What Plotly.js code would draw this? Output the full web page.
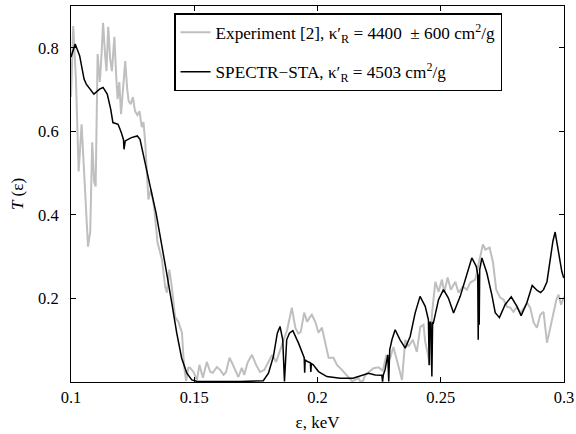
<!DOCTYPE html>
<html>
<head>
<meta charset="utf-8">
<script src="https://cdn.plot.ly/plotly-3.0.1.min.js"></script>
<style>
  html, body { margin: 0; padding: 0; background: #ffffff; }
  #chart { width: 576px; height: 434px; }
</style>
</head>
<body>
<div id="chart"></div>
<script>
// Experiment [2]
var expX = [0.1000,0.1009,0.1020,0.1031,0.1043,0.1053,0.1063,0.1069,0.1078,0.1086,0.1094,0.1100,0.1108,0.1117,0.1124,0.1130,0.1138,0.1144,0.1151,0.1159,0.1166,0.1176,0.1183,0.1189,0.1196,0.1203,0.1211,0.1220,0.1228,0.1234,0.1242,0.1251,0.1260,0.1269,0.1278,0.1287,0.1294,0.1301,0.1314,0.1324,0.1337,0.1351,0.1369,0.1382,0.1389,0.1399,0.1409,0.1422,0.1436,0.1450,0.1459,0.1467,0.1476,0.1483,0.1497,0.1511,0.1521,0.1535,0.1551,0.1565,0.1575,0.1592,0.1605,0.1619,0.1629,0.1643,0.1653,0.1666,0.1679,0.1693,0.1703,0.1716,0.1734,0.1751,0.1767,0.1784,0.1800,0.1816,0.1832,0.1849,0.1865,0.1877,0.1896,0.1910,0.1922,0.1932,0.1946,0.1958,0.1968,0.1977,0.1991,0.2004,0.2018,0.2031,0.2045,0.2065,0.2079,0.2099,0.2119,0.2140,0.2153,0.2166,0.2173,0.2184,0.2194,0.2207,0.2227,0.2248,0.2265,0.2279,0.2295,0.2308,0.2322,0.2336,0.2343,0.2356,0.2369,0.2387,0.2403,0.2417,0.2430,0.2437,0.2446,0.2455,0.2464,0.2478,0.2491,0.2505,0.2514,0.2528,0.2541,0.2559,0.2572,0.2590,0.2606,0.2620,0.2640,0.2653,0.2671,0.2681,0.2698,0.2712,0.2725,0.2741,0.2755,0.2769,0.2782,0.2795,0.2809,0.2823,0.2839,0.2850,0.2863,0.2877,0.2890,0.2904,0.2917,0.2931,0.2944,0.2958,0.2969,0.2978,0.2988,0.3000];
var expY = [0.682,0.852,0.725,0.504,0.617,0.509,0.377,0.324,0.360,0.574,0.478,0.468,0.785,0.718,0.785,0.860,0.785,0.744,0.850,0.773,0.744,0.826,0.737,0.677,0.718,0.641,0.701,0.768,0.701,0.672,0.665,0.682,0.648,0.639,0.648,0.610,0.622,0.574,0.437,0.461,0.420,0.334,0.293,0.228,0.214,0.269,0.228,0.156,0.144,0.118,0.036,0.002,0.034,0.034,0.024,0.005,0.041,0.010,0.048,0.024,0.022,0.036,0.029,0.017,0.024,0.058,0.046,0.029,0.012,0.034,0.017,0.046,0.065,0.041,0.024,0.029,0.048,0.065,0.048,0.077,0.106,0.125,0.178,0.130,0.116,0.120,0.166,0.144,0.154,0.161,0.144,0.118,0.130,0.094,0.058,0.058,0.041,0.029,0.017,0.002,0.005,0.010,0.002,0.002,0.017,0.024,0.033,0.035,0.027,0.063,0.058,0.084,0.053,0.024,0.005,0.101,0.085,0.101,0.072,0.132,0.137,0.096,0.072,0.039,0.161,0.240,0.216,0.245,0.214,0.250,0.221,0.240,0.214,0.228,0.221,0.238,0.245,0.281,0.329,0.317,0.322,0.286,0.221,0.202,0.197,0.180,0.178,0.168,0.180,0.166,0.178,0.190,0.178,0.142,0.130,0.161,0.168,0.094,0.132,0.173,0.197,0.209,0.185,0.204];

// SPECTR-STA
var calcX = [0.1000,0.1017,0.1035,0.1053,0.1062,0.1072,0.1093,0.1116,0.1130,0.1147,0.1161,0.1170,0.1191,0.1204,0.1213,0.1215,0.1220,0.1245,0.1269,0.1280,0.1291,0.1300,0.1321,0.1345,0.1368,0.1388,0.1409,0.1429,0.1449,0.1470,0.1490,0.1510,0.1564,0.1686,0.1780,0.1801,0.1821,0.1837,0.1848,0.1859,0.1866,0.1870,0.1875,0.1886,0.1900,0.1923,0.1943,0.1946,0.1948,0.1950,0.1959,0.1971,0.1973,0.1975,0.1983,0.2004,0.2038,0.2092,0.2144,0.2173,0.2207,0.2234,0.2261,0.2264,0.2267,0.2274,0.2285,0.2289,0.2293,0.2302,0.2315,0.2335,0.2356,0.2376,0.2396,0.2416,0.2437,0.2450,0.2453,0.2456,0.2460,0.2464,0.2467,0.2470,0.2491,0.2511,0.2531,0.2552,0.2579,0.2606,0.2626,0.2644,0.2650,0.2652,0.2654,0.2656,0.2658,0.2667,0.2687,0.2707,0.2721,0.2738,0.2761,0.2786,0.2809,0.2826,0.2849,0.2871,0.2891,0.2905,0.2917,0.2931,0.2944,0.2955,0.2964,0.2978,0.2991,0.2999];
var calcY = [0.778,0.809,0.781,0.725,0.713,0.705,0.689,0.701,0.705,0.689,0.653,0.621,0.617,0.597,0.580,0.557,0.577,0.585,0.589,0.581,0.553,0.525,0.469,0.405,0.333,0.261,0.189,0.117,0.057,0.021,0.005,0.002,0.001,0.001,0.003,0.021,0.061,0.117,0.133,0.101,0.001,0.053,0.101,0.117,0.123,0.093,0.061,0.058,0.022,0.053,0.049,0.046,0.024,0.044,0.041,0.025,0.013,0.009,0.009,0.015,0.021,0.017,0.016,0.001,0.017,0.029,0.065,0.001,0.077,0.101,0.125,0.101,0.081,0.109,0.165,0.205,0.181,0.149,0.041,0.144,0.141,0.013,0.142,0.141,0.197,0.221,0.201,0.165,0.205,0.261,0.297,0.277,0.257,0.101,0.257,0.137,0.269,0.297,0.261,0.209,0.166,0.154,0.185,0.204,0.181,0.159,0.189,0.231,0.219,0.214,0.221,0.240,0.293,0.337,0.359,0.309,0.265,0.249];

var xTickVals = [0.1, 0.15, 0.2, 0.25, 0.3];
var xTickText = ['0.1', '0.15', '0.2', '0.25', '0.3'];
var yTickVals = [0.2, 0.4, 0.6, 0.8];
var yTickText = ['0.2', '0.4', '0.6', '0.8'];

var serif = '"Liberation Serif", "Times New Roman", Times, serif';

var traces = [
  {
    x: expX, y: expY, type: 'scatter', mode: 'lines', legendgroup: 'a',
    name: 'Experiment [2], κ′<sub>R</sub> = 4400  ± 600 cm<sup>2</sup>/g',
    line: {color: '#bfbfbf', width: 2}
  },
  {
    x: calcX, y: calcY, type: 'scatter', mode: 'lines', legendgroup: 'b',
    name: 'SPECTR−STA, κ′<sub>R</sub> = 4503 cm<sup>2</sup>/g',
    line: {color: '#000000', width: 1.5}
  }
];

var axisCommon = {
  ticks: 'inside', ticklen: 5, tickwidth: 1, tickcolor: '#000',
  showline: true, linecolor: '#000', linewidth: 1, mirror: 'ticks',
  showgrid: false, zeroline: false,
  tickfont: {family: serif, size: 16.5, color: '#000'}
};

var layout = {
  width: 576, height: 434,
  margin: {l: 71, r: 12, t: 6, b: 52, pad: 0},
  paper_bgcolor: '#ffffff', plot_bgcolor: '#ffffff',
  font: {family: serif, size: 16, color: '#000'},
  showlegend: true,
  xaxis: Object.assign({}, axisCommon, {
    range: [0.1, 0.3], tickmode: 'array', tickvals: xTickVals, ticktext: xTickText,
    title: {text: 'ε, keV', font: {family: serif, size: 17, color: '#000'}, standoff: 10}
  }),
  yaxis: Object.assign({}, axisCommon, {
    range: [0, 0.9], tickmode: 'array', tickvals: yTickVals, ticktext: yTickText,
    ticklabelstandoff: 8,
    title: {text: '<i>T</i> (ε)', font: {family: serif, size: 17, color: '#000'}, standoff: 10}
  }),
  legend: {
    x: 0.209, y: 0.981, xanchor: 'left', yanchor: 'top',
    traceorder: 'grouped', tracegroupgap: 14, itemwidth: 30,
    bgcolor: '#ffffff', bordercolor: '#000', borderwidth: 1.5,
    font: {family: serif, size: 17.2, color: '#000'}
  }
};

Plotly.newPlot('chart', traces, layout, {displayModeBar: false, staticPlot: true});
</script>
</body>
</html>
